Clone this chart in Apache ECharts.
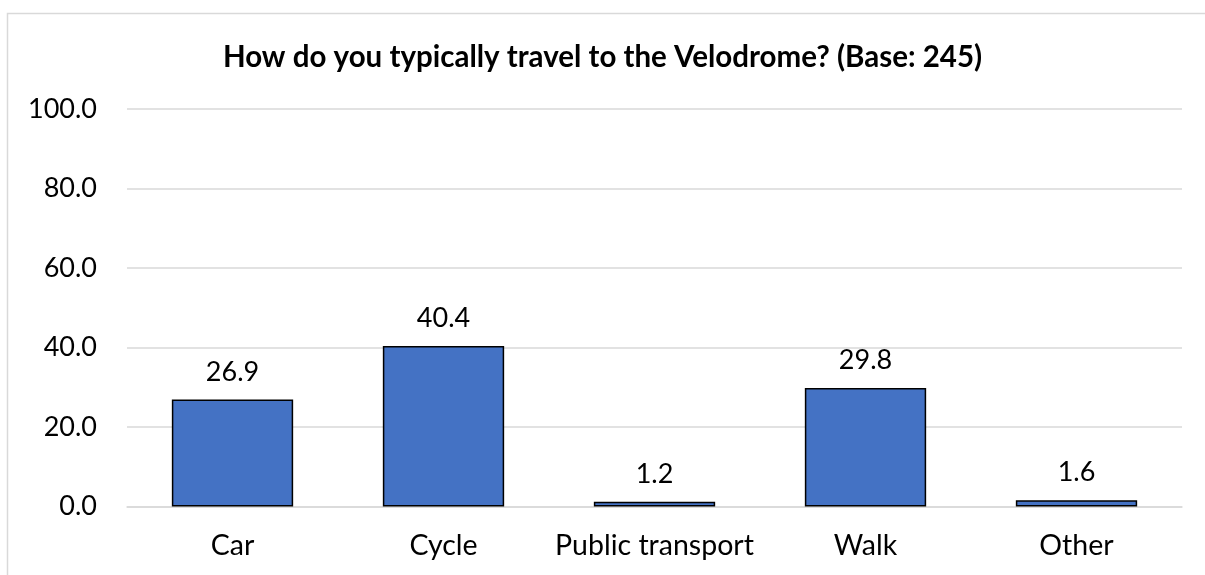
<!DOCTYPE html>
<html>
<head>
<meta charset="utf-8">
<script src="https://cdn.jsdelivr.net/npm/echarts@6/dist/echarts.min.js"></script>
<style>html,body{margin:0;padding:0;background:#fff}#c{width:1205px;height:575px}</style>
</head>
<body>
<div id="c"></div>
<script>
const categories = ["Car", "Cycle", "Public transport", "Walk", "Other"];
const values = [26.9, 40.4, 1.2, 29.8, 1.6];
const titleText = "How do you typically travel to the Velodrome? (Base: 245)";
const FONT = "Lato, 'Open Sans', sans-serif";

const chart = echarts.init(document.getElementById('c'), null, {renderer: 'canvas'});
chart.setOption({
  animation: false,
  backgroundColor: '#fff',
  graphic: [{
    type: 'rect', silent: true, z: -1,
    shape: {x: 7.5, y: 13.5, width: 1300, height: 700},
    style: {fill: 'none', stroke: '#d9d9d9', lineWidth: 1.5}
  }],
  title: {
    text: titleText, left: 'center', top: 37,
    textStyle: {fontFamily: FONT, fontWeight: 'bold', fontSize: 29.5, color: '#000'}
  },
  grid: {left: 127, right: 23, top: 109, bottom: 68.5},
  xAxis: {
    type: 'category', data: categories,
    axisLine: {show: true, lineStyle: {color: '#d9d9d9', width: 1.5}},
    axisTick: {show: false},
    axisLabel: {interval: 0, fontFamily: FONT, fontSize: 28.5, color: '#000', margin: 25}
  },
  yAxis: {
    type: 'value', min: 0, max: 100, interval: 20,
    axisLine: {show: false}, axisTick: {show: false},
    splitLine: {lineStyle: {color: '#d9d9d9', width: 1.5}},
    axisLabel: {fontFamily: FONT, fontSize: 27, color: '#000', margin: 30,
      formatter: v => v.toFixed(1)}
  },
  series: [{
    type: 'bar', data: values, barWidth: '57.5%',
    itemStyle: {color: '#4472C4', borderColor: '#000', borderWidth: 1.5},
    label: {show: true, position: 'top', distance: 14, fontFamily: FONT, fontSize: 27, color: '#000',
      formatter: p => p.value.toFixed(1)}
  }]
});
</script>
</body>
</html>
